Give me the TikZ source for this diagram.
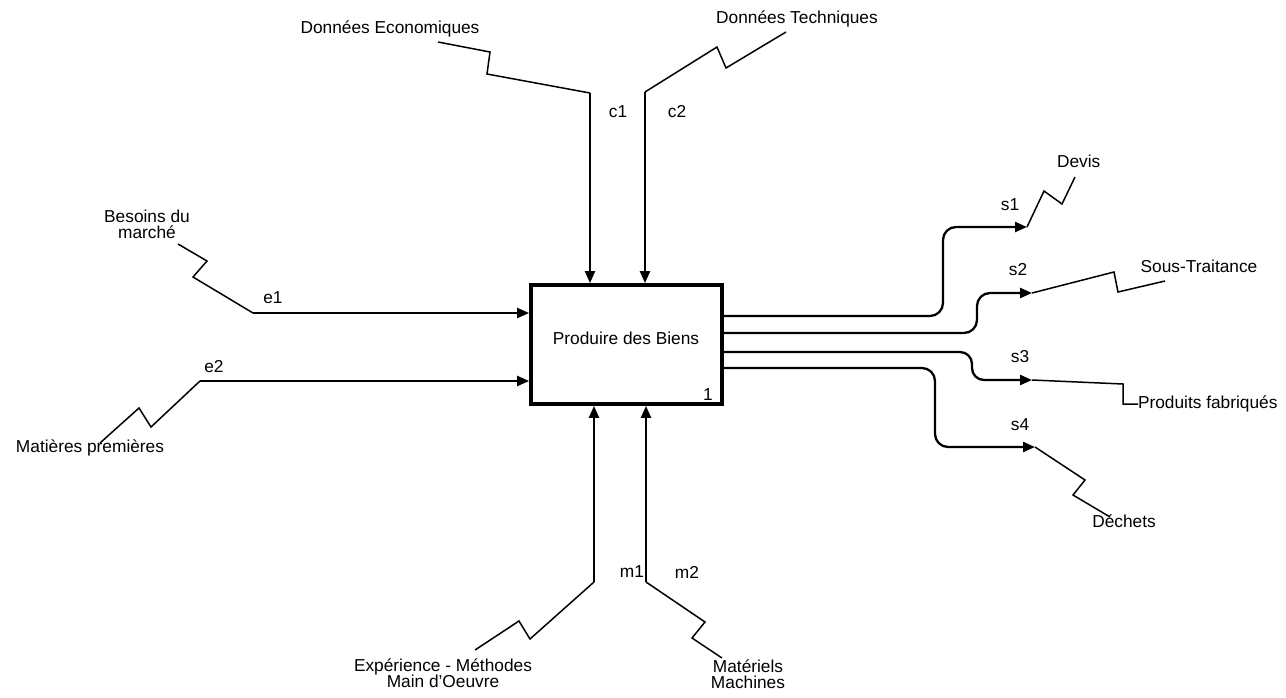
\documentclass[tikz,border=0pt]{standalone}
\usepackage{fontspec}
\setmainfont{Liberation Sans}
\usetikzlibrary{arrows.meta}
\newcommand\lblfont{\fontsize{17.3}{16}\selectfont\lineskiplimit=-100pt\relax}
\begin{document}
\begin{tikzpicture}[x=1pt,y=-1pt,
  lbl/.style={font=\lblfont, inner sep=0pt, outer sep=0pt},
  flow/.style={line width=2.3pt, -{Triangle[length=12pt,width=10pt]}},
  squig/.style={line width=1.5pt, line join=miter},
  act/.style={draw, line width=3.8pt, minimum width=191pt, minimum height=119pt, inner sep=0pt}]
\useasboundingbox (0,0) rectangle (1286,697);

% activity box
\node[act] (box) at (626.5,344.5) {};
\node[lbl, anchor=base] (title) at (626,344) {Produire des Biens};
\node[lbl, anchor=base] (num) at (708,400) {1};

% text labels
\node[lbl, anchor=base] (DE) at (390,33) {Données Economiques};
\node[lbl, anchor=base] (DT) at (797,23) {Données Techniques};
\node[lbl, align=center] (BM) at (147,224) {Besoins du\\marché};
\node[lbl, anchor=base] (MP) at (90,452) {Matières premières};
\node[lbl, align=center] (EX) at (443,673) {Expérience - Méthodes\\Main d'Oeuvre};
\node[lbl, align=center] (MA) at (748,674) {Matériels\\Machines};
\node[lbl, anchor=base west] (DV) at (1057,167) {Devis};
\node[lbl, anchor=base] (ST) at (1199,272) {Sous-Traitance};
\node[lbl, anchor=west] (PF) at (1138,404) {Produits fabriqués};
\node[lbl, anchor=base] (DC) at (1124,527) {Déchets};

% arrow labels
\node[lbl] (lc1) at (618,112) {c1};
\node[lbl] (lc2) at (677,112) {c2};
\node[lbl] (le1) at (273,298) {e1};
\node[lbl] (le2) at (214,367) {e2};
\node[lbl] (lm1) at (632,572) {m1};
\node[lbl] (lm2) at (687,572) {m2};
\node[lbl] (ls1) at (1010,205) {s1};
\node[lbl] (ls2) at (1018,270) {s2};
\node[lbl] (ls3) at (1020,357) {s3};
\node[lbl] (ls4) at (1020,425) {s4};

% coordinates
\coordinate (de0) at (438,42);  \coordinate (c1b) at (590,93);
\coordinate (dt0) at (786,32);  \coordinate (c2b) at (645,92);
\coordinate (bm0) at (178,244); \coordinate (e1b) at (253,313);
\coordinate (mp0) at (100,443); \coordinate (e2b) at (200,381);
\coordinate (ex0) at (475,650); \coordinate (m1b) at (594,582);
\coordinate (ma0) at (722,658); \coordinate (m2b) at (646,582);
\coordinate (s1e) at (1027,227); \coordinate (dv0) at (1075,177);
\coordinate (s2e) at (1032,293); \coordinate (st0) at (1165,281);
\coordinate (s3e) at (1032,380);
\coordinate (s4e) at (1035,447); \coordinate (dc0) at (1110,517);

% controls
\draw[squig] (de0) -- (490,52) -- (487,74) -- (c1b);
\draw[flow] (c1b) -- (c1b |- box.north);
\draw[squig] (dt0) -- (726,68) -- (717,47) -- (c2b);
\draw[flow] (c2b) -- (c2b |- box.north);

% inputs
\draw[squig] (bm0) -- (207,261) -- (193,277) -- (e1b);
\draw[flow] (e1b) -- (e1b -| box.west);
\draw[squig] (mp0) -- (139,408) -- (151,427) -- (e2b);
\draw[flow] (e2b) -- (e2b -| box.west);

% mechanisms
\draw[squig] (ex0) -- (519,621) -- (530,639) -- (m1b);
\draw[flow] (m1b) -- (m1b |- box.south);
\draw[squig] (ma0) -- (692,638) -- (705,622) -- (m2b);
\draw[flow] (m2b) -- (m2b |- box.south);

% outputs
\draw[flow, rounded corners=13pt] (box.east |- 0,316) -- (943,316) -- (943,227) -- (s1e);
\draw[squig] (s1e) -- (1044,191) -- (1062,204) -- (dv0);
\draw[flow, rounded corners=13pt] (box.east |- 0,333) -- (977,333) -- (977,293) -- (s2e);
\draw[squig] (s2e) -- (1114,272) -- (1118,292) -- (st0);
\draw[flow, rounded corners=12pt] (box.east |- 0,352) -- (972,352) -- (972,380) -- (s3e);
\draw[squig] (s3e) -- (1123,384) -- (1123,404) -- (PF.west);
\draw[flow, rounded corners=13pt] (box.east |- 0,368) -- (935,368) -- (935,447) -- (s4e);
\draw[squig] (s4e) -- (1085,480) -- (1073,495) -- (dc0);
\end{tikzpicture}
\end{document}
